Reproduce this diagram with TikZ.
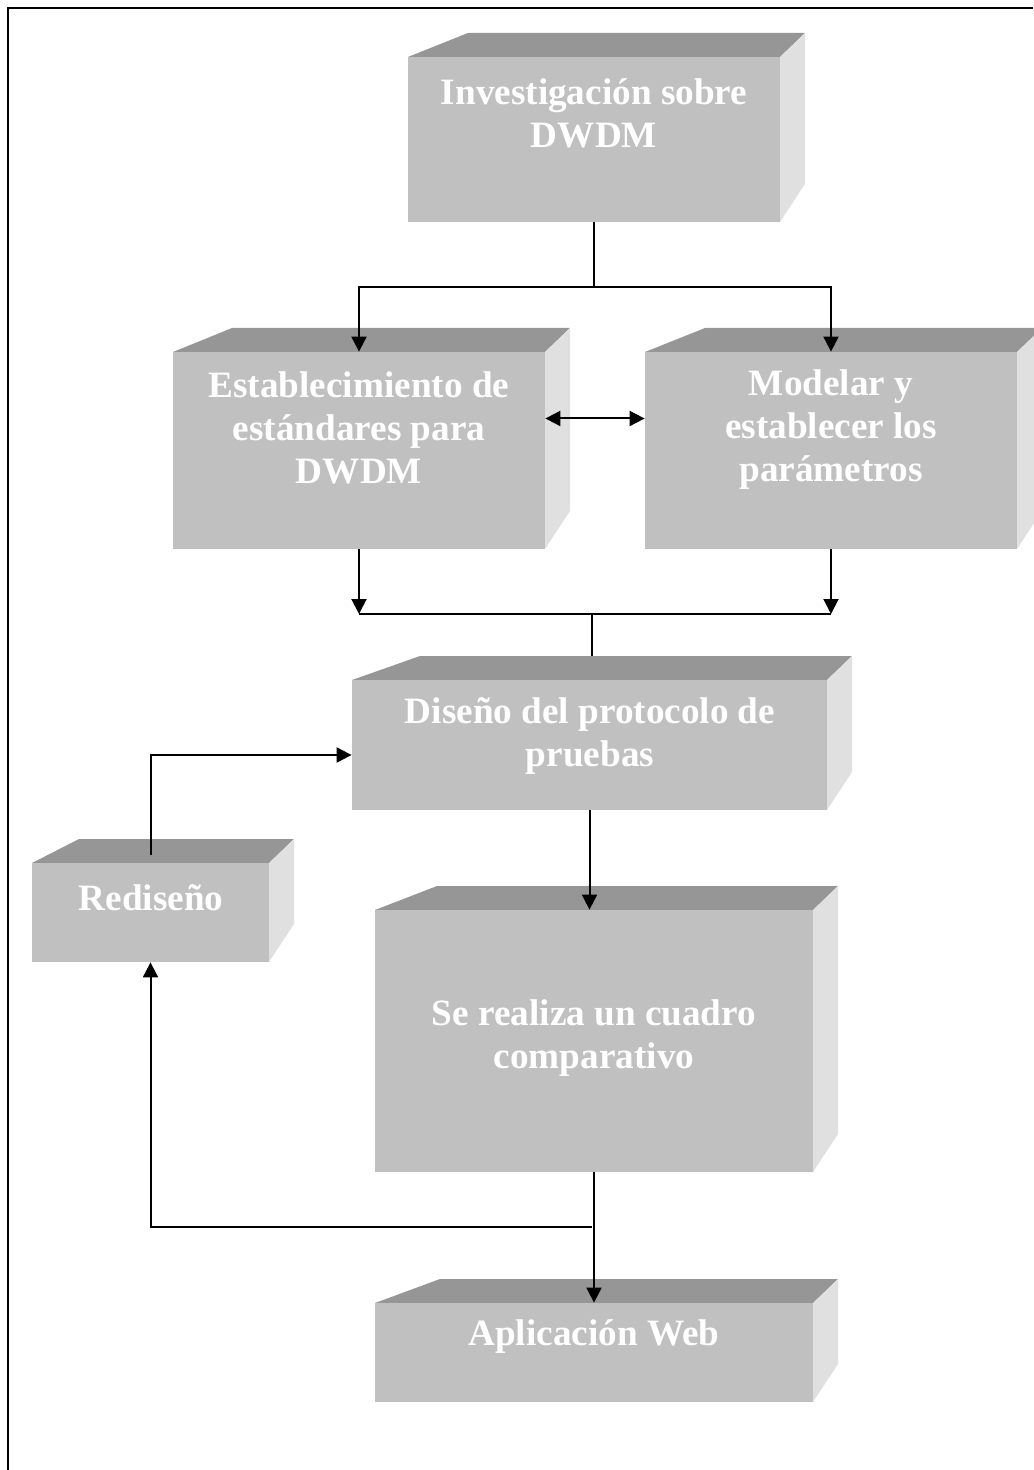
\documentclass[tikz,border=0pt]{standalone}
\usepackage{fontspec}
\setmainfont{Liberation Serif}
\usetikzlibrary{arrows.meta,fit}

\definecolor{frente}{HTML}{C0C0C0}
\definecolor{techo}{HTML}{969696}
\definecolor{lado}{HTML}{E0E0E0}

\tikzset{
  cara/.style={fill=frente, inner sep=0pt},
  texto/.style={text=white, font=\bfseries\fontsize{18.6}{21.5}\selectfont, align=center},
  linea/.style={line width=1pt},
  flecha/.style={line width=1pt, -{Triangle[length=7.5pt,width=7.5pt]}},
  doble/.style={line width=1pt, {Triangle[length=7.5pt,width=7.5pt]}-{Triangle[length=7.5pt,width=7.5pt]}},
}

% caja 3D: nombre, x1, y1, x2, y2, fuga izquierda
\newcommand{\caja}[6]{%
  \fill[techo] (#2,#3) -- (#2+#6,#3-24) -- (#4+25,#3-24) -- (#4,#3) -- cycle;
  \fill[lado] (#4,#3) -- (#4+25,#3-24) -- (#4+25,#5-38) -- (#4,#5) -- cycle;
  \node[cara, fit={(#2,#3) (#4,#5)}] (#1) {};
  \coordinate (#1-fondo) at ([yshift=12pt]#1.north);
}

\begin{document}
\begin{tikzpicture}[x=0.5pt, y=-0.5pt]
\useasboundingbox (0,0) rectangle (1033,1470);

\draw [line width=1pt] (1033,8) -- (8,8) -- (8,1470);

\caja{inv}{408}{57}{780}{222}{60}
\caja{est}{173}{352}{545}{549}{59}
\caja{mod}{645}{352}{1017}{549}{60}
\caja{dis}{352}{680}{827}{810}{68}
\caja{red}{32}{863}{269}{962}{47}
\caja{cua}{375}{910}{813}{1172}{62}
\caja{apl}{375}{1303}{813}{1402}{65}

\node [texto] (t-inv) at (594,113) {Investigación sobre\\DWDM};
\node [texto] (t-est) at (359,428) {Establecimiento de\\estándares para\\DWDM};
\node [texto] (t-mod) at (831,430) {Modelar y\\establecer los\\parámetros};
\node [texto] (t-dis) at (590,736) {Diseño del protocolo de\\pruebas};
\node [texto] (t-red) at (151,898) {Rediseño};
\node [texto] (t-cua) at (594,1038) {Se realiza un cuadro\\comparativo};
\node [texto] (t-apl) at (594,1337) {Aplicación Web};

%\draw [help lines] (0,0) grid (1033,1470);

\coordinate (bif1) at (594,287);
\draw [linea] (inv.south) -- (bif1);
\draw [flecha] (bif1) -| (est.north);
\draw [flecha] (bif1) -| (mod.north);
\draw [doble] ([yshift=16pt]est.east) -- ([yshift=16pt]mod.west);

\coordinate (bif2) at (592,614);
\draw [flecha] (est.south) -- (est.south |- bif2);
\draw [flecha] (mod.south) -- (mod.south |- bif2);
\draw [linea] (est.south |- bif2) -- (mod.south |- bif2);
\draw [linea] (bif2) -- (bif2 |- dis-fondo);

\draw [flecha] (dis.south) -- (dis.south |- cua.north);
\draw [flecha] (cua.south) -- (apl.north);

\coordinate (ret) at (592,1227);
\draw [flecha] (ret) -| (red.south);
\draw [flecha] ([yshift=4pt]red.north) |- ([yshift=-5pt]dis.west);

\end{tikzpicture}
\end{document}
